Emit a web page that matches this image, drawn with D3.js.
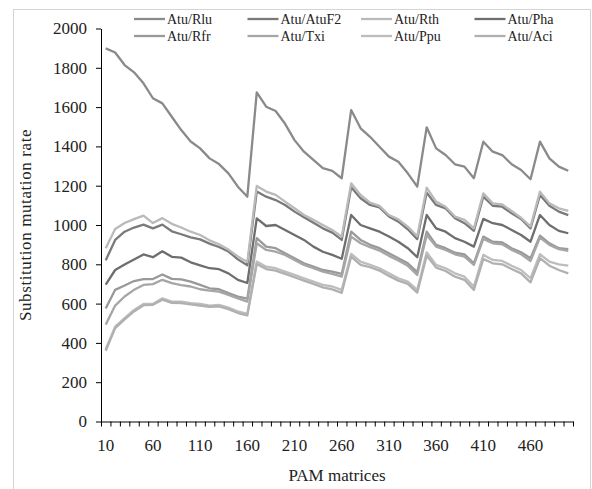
<!DOCTYPE html>
<html>
<head>
<meta charset="utf-8">
<script src="https://cdn.jsdelivr.net/npm/d3@7"></script>
<style>
  body { margin: 0; background: #fff; }
  svg text { font-family: "Liberation Serif", "DejaVu Serif", serif; fill: #222; }
  .axis path, .axis line { stroke: #000; }
</style>
</head>
<body>
<svg id="chart" width="592" height="489"></svg>
<script>
// PAM matrices 10..500
const pam = d3.range(10, 501, 10);
const xTickLabels = [10, 60, 110, 160, 210, 260, 310, 360, 410, 460];
const yTicks = d3.range(0, 2001, 200);

const seriesNames = ["Atu/Rlu", "Atu/AtuF2", "Atu/Rth", "Atu/Pha", "Atu/Rfr", "Atu/Txi", "Atu/Ppu", "Atu/Aci"];
const seriesColors = ["#8a8a8a", "#7a7a7a", "#bababa", "#6e6e6e", "#999999", "#a6a6a6", "#bdbdbd", "#b0b0b0"];

const rlu = [1899, 1878, 1814, 1777, 1721, 1645, 1619, 1551, 1483, 1425, 1390, 1339, 1310, 1263, 1195, 1144,
  1675, 1602, 1580, 1515, 1432, 1373, 1331, 1289, 1275, 1238,
  1585, 1492, 1449, 1398, 1348, 1322, 1263, 1195,
  1497, 1390, 1356, 1309, 1297, 1238,
  1424, 1373, 1356, 1309, 1280, 1233,
  1424, 1339, 1297, 1276];
const atuF2 = [820, 924, 966, 987, 1002, 983, 1002, 968, 953, 937, 927, 905, 888, 865, 825, 795,
  1170, 1144, 1127, 1102, 1068, 1039, 1012, 983, 961, 924,
  1192, 1136, 1102, 1090, 1043, 1017, 978, 928,
  1165, 1102, 1085, 1034, 1009, 970,
  1144, 1098, 1093, 1060, 1031, 983,
  1153, 1098, 1068, 1050];
const rth = [882, 980, 1010, 1030, 1048, 1010, 1035, 1006, 987, 966, 949, 922, 902, 875, 840, 812,
  1199, 1170, 1153, 1119, 1085, 1051, 1026, 1000, 975, 941,
  1212, 1153, 1114, 1097, 1051, 1029, 992, 942,
  1190, 1119, 1093, 1043, 1026, 983,
  1161, 1110, 1105, 1071, 1037, 992,
  1170, 1110, 1085, 1072];
const pha = [697, 771, 799, 824, 850, 836, 866, 838, 834, 810, 795, 780, 775, 754, 721, 705,
  1034, 995, 1000, 975, 949, 924, 890, 864, 848, 828,
  1051, 1000, 983, 966, 941, 915, 882, 836,
  1051, 983, 966, 933, 915, 890,
  1031, 1009, 1000, 975, 949, 915,
  1051, 1000, 970, 958];
const rfr = [575, 670, 692, 715, 725, 725, 748, 726, 723, 712, 695, 678, 673, 653, 636, 625,
  933, 890, 882, 856, 831, 805, 788, 771, 763, 751,
  966, 924, 899, 882, 856, 831, 805, 760,
  966, 899, 882, 859, 851, 805,
  941, 915, 911, 882, 861, 831,
  946, 907, 882, 877];
const txi = [493, 590, 636, 670, 695, 699, 721, 704, 694, 687, 673, 666, 661, 644, 627, 610,
  907, 873, 864, 848, 822, 797, 780, 763, 751, 737,
  941, 907, 887, 870, 843, 819, 792, 746,
  949, 890, 873, 851, 839, 797,
  929, 907, 902, 873, 851, 817,
  936, 899, 877, 868];
const ppu = [368, 483, 526, 568, 598, 598, 627, 610, 610, 602, 598, 590, 593, 580, 560, 548,
  814, 788, 780, 763, 746, 729, 712, 695, 687, 670,
  853, 814, 797, 780, 754, 729, 712, 670,
  861, 797, 780, 754, 737, 687,
  848, 822, 817, 793, 771, 729,
  851, 814, 800, 793];
const aci = [360, 475, 520, 560, 592, 594, 620, 604, 603, 596, 590, 584, 586, 572, 552, 540,
  802, 776, 768, 751, 734, 717, 700, 683, 672, 655,
  839, 797, 785, 768, 741, 717, 700, 656,
  844, 783, 766, 737, 721, 670,
  827, 805, 800, 776, 754, 708,
  831, 793, 771, 754];

const seriesValues = [rlu, atuF2, rth, pha, rfr, txi, ppu, aci];

const plot = { left: 101, right: 573, top: 28.5, bottom: 421.5 };
const serif = '"Liberation Serif", "DejaVu Serif", serif';

const svg = d3.select("#chart");

// outer frame
svg.append("rect")
  .attr("x", 13.5).attr("y", 9.5)
  .attr("width", 577).attr("height", 490)
  .attr("fill", "none")
  .attr("stroke", "#d4d4d4");

const x = d3.scaleBand()
  .domain(pam)
  .range([plot.left, plot.right])
  .paddingInner(0).paddingOuter(0);

const xEdge = d3.scaleLinear()
  .domain([0, pam.length])
  .range([plot.left, plot.right]);

const y = d3.scaleLinear()
  .domain([0, 2000])
  .range([plot.bottom, plot.top]);

// y axis
svg.append("g")
  .attr("class", "axis")
  .attr("transform", `translate(${plot.left}, 0)`)
  .call(d3.axisLeft(y).tickValues(yTicks).tickFormat(d3.format("d"))
    .tickSize(5).tickSizeOuter(0).tickPadding(9))
  .attr("font-family", serif)
  .attr("font-size", 17);

// x axis: tick marks on every category edge
svg.append("g")
  .attr("class", "axis")
  .attr("transform", `translate(0, ${plot.bottom})`)
  .call(d3.axisBottom(xEdge).tickValues(d3.range(0, pam.length + 1)).tickSize(5).tickSizeOuter(0).tickFormat(""));

// x axis labels at category centres
const xLab = svg.append("g")
  .attr("transform", `translate(0, ${plot.bottom})`)
  .call(d3.axisBottom(x).tickValues(xTickLabels).tickSize(0).tickPadding(17))
  .attr("font-family", serif)
  .attr("font-size", 17);
xLab.select(".domain").remove();

// axis titles
svg.append("text")
  .attr("x", (plot.left + plot.right) / 2)
  .attr("y", 481)
  .attr("text-anchor", "middle")
  .style("font-size", "17px")
  .text("PAM matrices");

svg.append("text")
  .attr("transform", `translate(31, ${(plot.top + plot.bottom) / 2}) rotate(-90)`)
  .attr("text-anchor", "middle")
  .style("font-size", "17px")
  .style("letter-spacing", "0.6px")
  .text("Substitution mutation rate");

// lines
const line = d3.line()
  .x((d, i) => x(pam[i]) + x.bandwidth() / 2)
  .y(d => y(d));

svg.append("g")
  .selectAll("path")
  .data(seriesValues)
  .join("path")
  .attr("fill", "none")
  .attr("stroke", (d, i) => seriesColors[i])
  .attr("stroke-width", 2.3)
  .attr("stroke-linejoin", "round")
  .attr("d", line);

// legend: 2 rows x 4 columns
const legend = svg.append("g");
seriesNames.forEach((name, i) => {
  const col = i % 4, row = Math.floor(i / 4);
  const lx = 134 + col * 113.5, ly = 19 + row * 17;
  legend.append("line")
    .attr("x1", lx).attr("x2", lx + 31)
    .attr("y1", ly).attr("y2", ly)
    .attr("stroke", seriesColors[i])
    .attr("stroke-width", 2.3);
  legend.append("text")
    .attr("x", lx + 33)
    .attr("y", ly)
    .attr("dy", "0.35em")
    .style("font-size", "14px")
    .text(name);
});
</script>
</body>
</html>
